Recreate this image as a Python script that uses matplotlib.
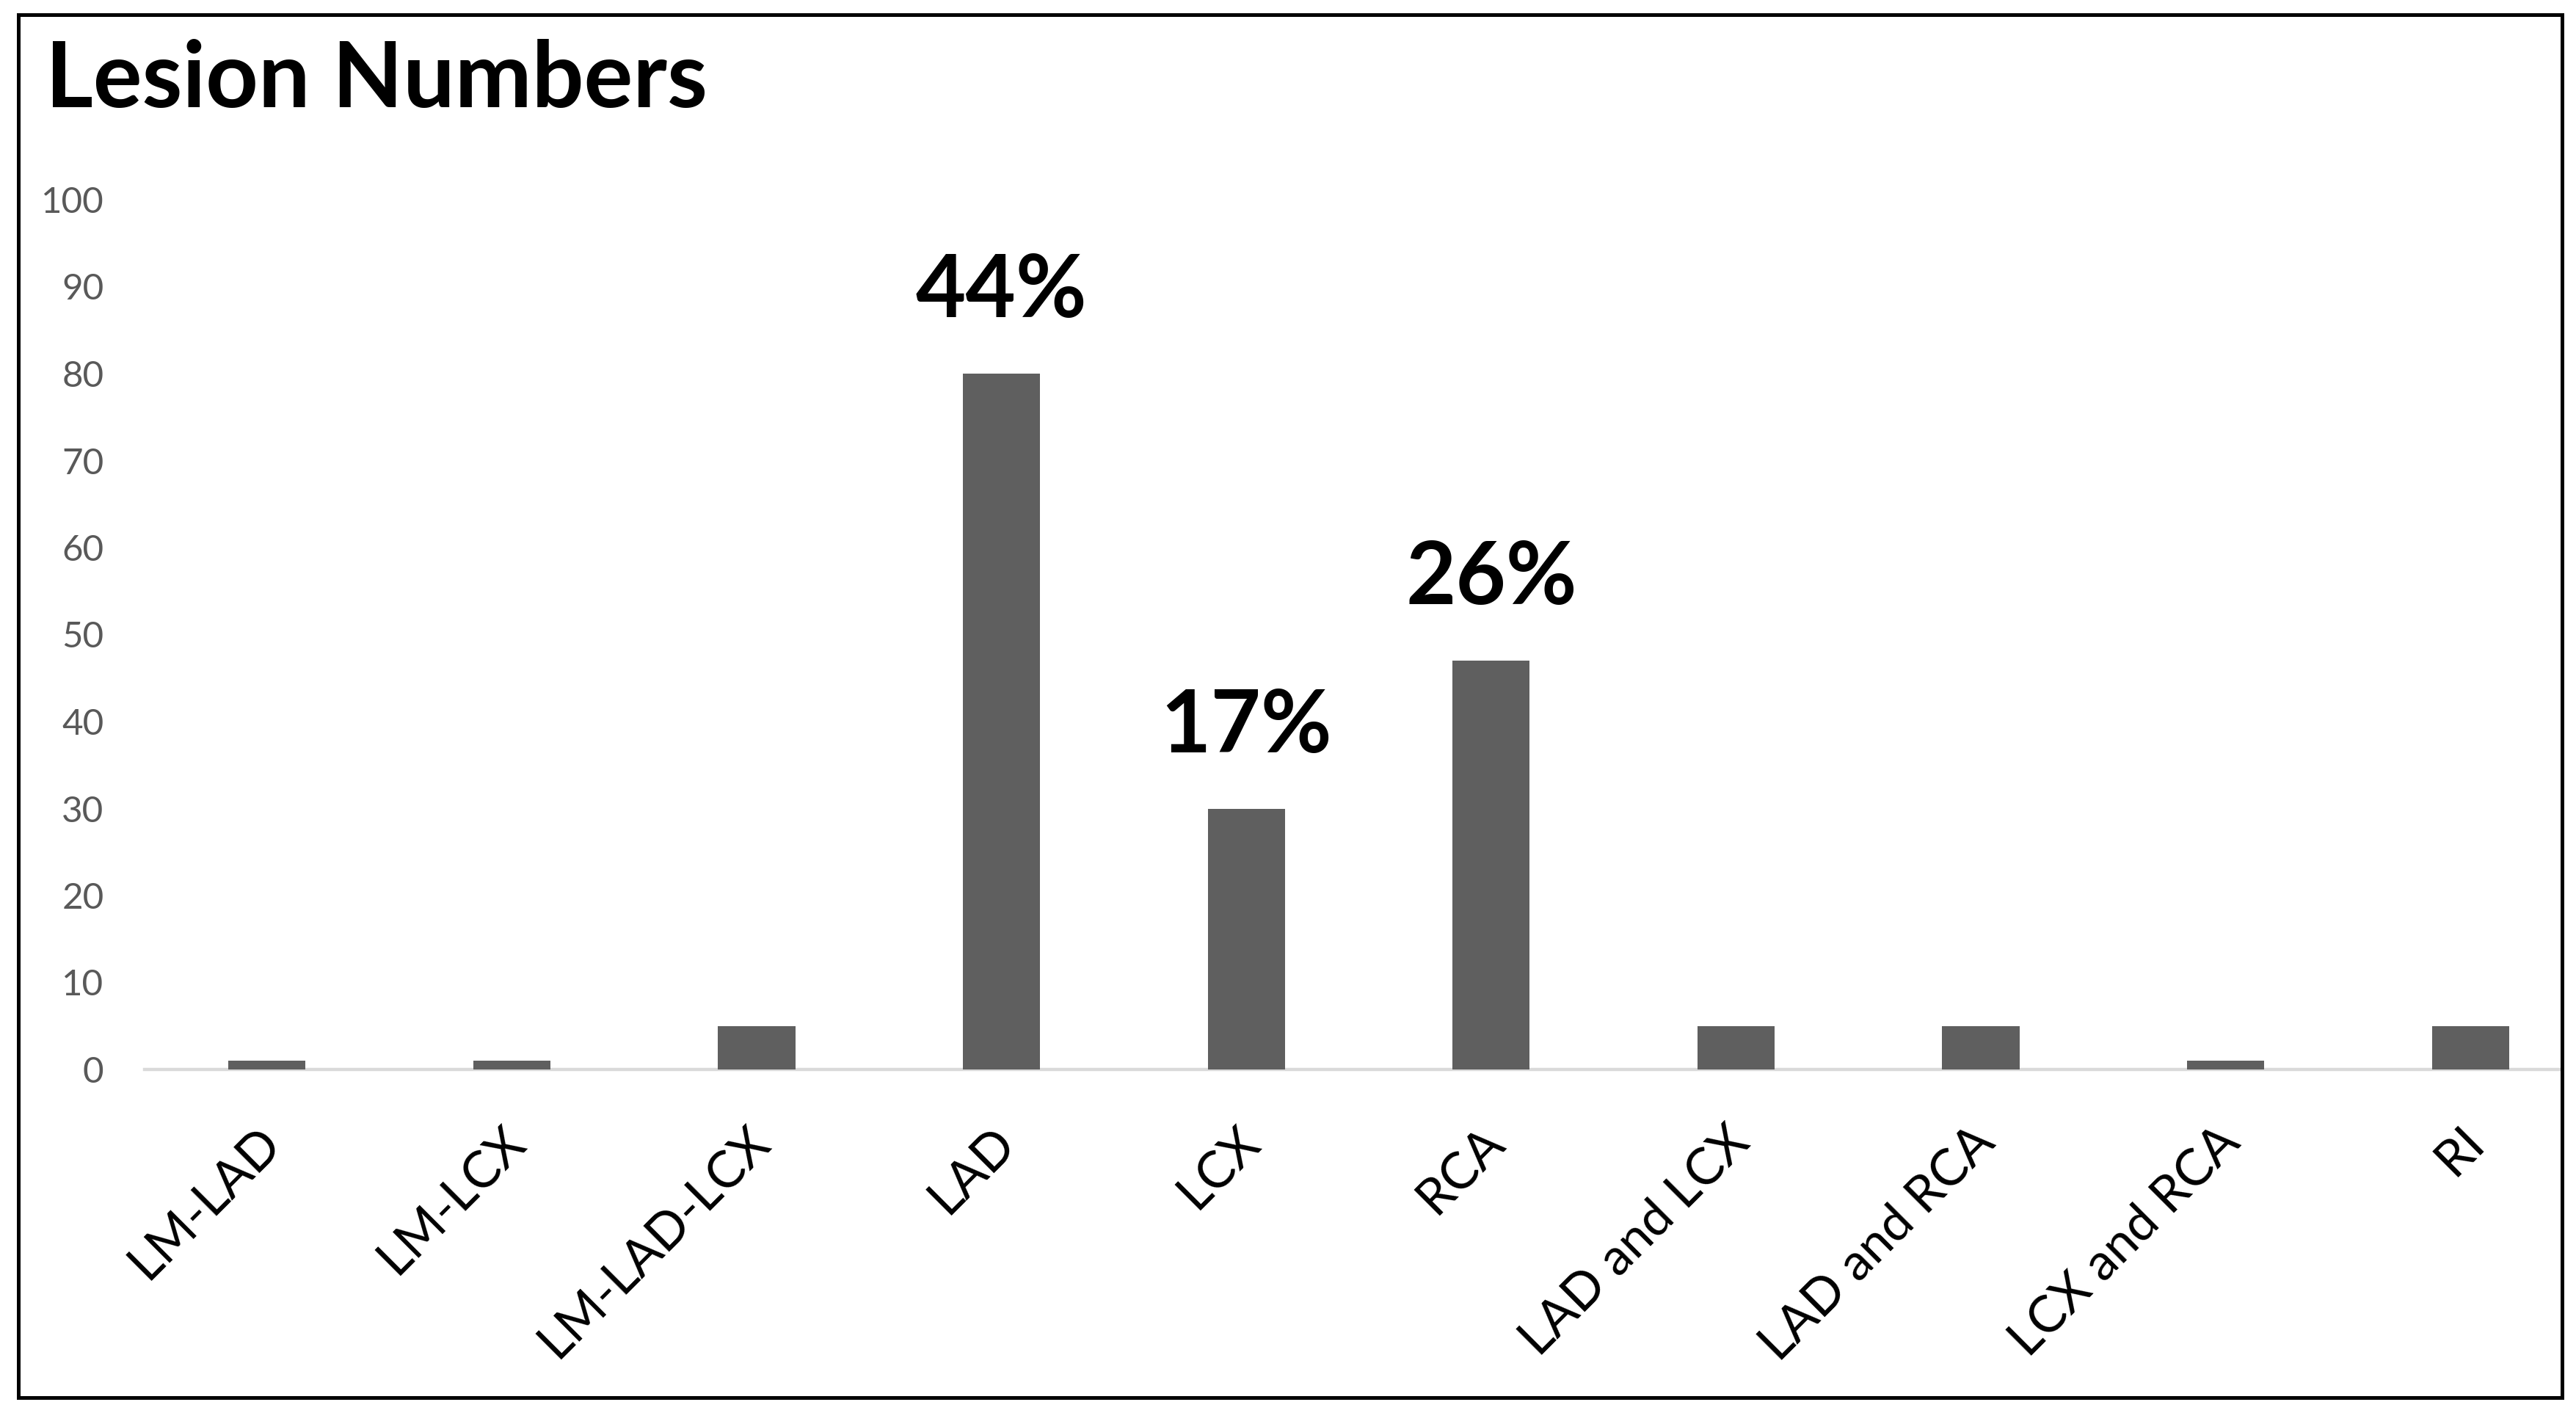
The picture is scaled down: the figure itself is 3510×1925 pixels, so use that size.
import matplotlib
matplotlib.use("Agg")
from matplotlib import pyplot as plt
from matplotlib.patches import Rectangle
from matplotlib.transforms import ScaledTranslation

plt.rcParams['font.family'] = ['Lato', 'DejaVu Sans']

# data
vessels = ["LM-LAD", "LM-LCX", "LM-LAD-LCX", "LAD", "LCX", "RCA",
           "LAD and LCX", "LAD and RCA", "LCX and RCA", "RI"]
lesions = [1, 1, 5, 80, 30, 47, 5, 5, 1, 5]
pct_labels = {3: "44%", 4: "17%", 5: "26%"}
yticks = [0, 10, 20, 30, 40, 50, 60, 70, 80, 90, 100]

fig = plt.figure(figsize=(35.1, 19.25), dpi=100)
fig.patch.set_facecolor("white")

# outer chart border
fig.patches.append(Rectangle((24.5 / 3510, 1 - 1903.5 / 1925),
                             (3490.5 - 24.5) / 3510, (1903.5 - 19.5) / 1925,
                             transform=fig.transFigure, fill=False,
                             edgecolor="black", linewidth=3.6))

fig.text(62 / 3510, 1 - 146 / 1925, "Lesion Numbers", fontsize=90,
         fontweight="bold", ha="left", va="baseline", color="black")

ax = fig.add_axes([197 / 3510, 1 - 1457 / 1925, (3488 - 197) / 3510, (1457 - 272) / 1925])
x = list(range(len(vessels)))
ax.bar(x, lesions, width=0.315, color="#5f5f5f", zorder=2)

for i, txt in pct_labels.items():
    ax.text(i, lesions[i] + 4.8, txt, ha="center", va="bottom",
            fontsize=85, fontweight="bold", color="black")

ax.set_xlim(-0.5, -0.5 + 3291 / 333.6)
ax.set_ylim(0, 100)
ax.set_yticks(yticks)
ax.set_yticklabels([str(v) for v in yticks])
ax.set_xticks(x)
ax.set_xticklabels(vessels, rotation=45, ha="right", va="center",
                   rotation_mode="anchor")

ax.tick_params(axis="y", length=0, pad=40, labelsize=35.5, labelcolor="#595959")
ax.tick_params(axis="x", length=0, pad=64, labelsize=50, labelcolor="black")

# nudge the slanted labels a little to the right
shift = ScaledTranslation(8 / 100, 0, fig.dpi_scale_trans)
for lab in ax.get_xticklabels():
    lab.set_transform(lab.get_transform() + shift)

for side in ["top", "left", "right"]:
    ax.spines[side].set_visible(False)
ax.spines["bottom"].set_color("#d9d9d9")
ax.spines["bottom"].set_linewidth(3.2)
ax.spines["bottom"].set_zorder(1)
ax.set_facecolor("none")

plt.savefig("out.png", dpi=100)
